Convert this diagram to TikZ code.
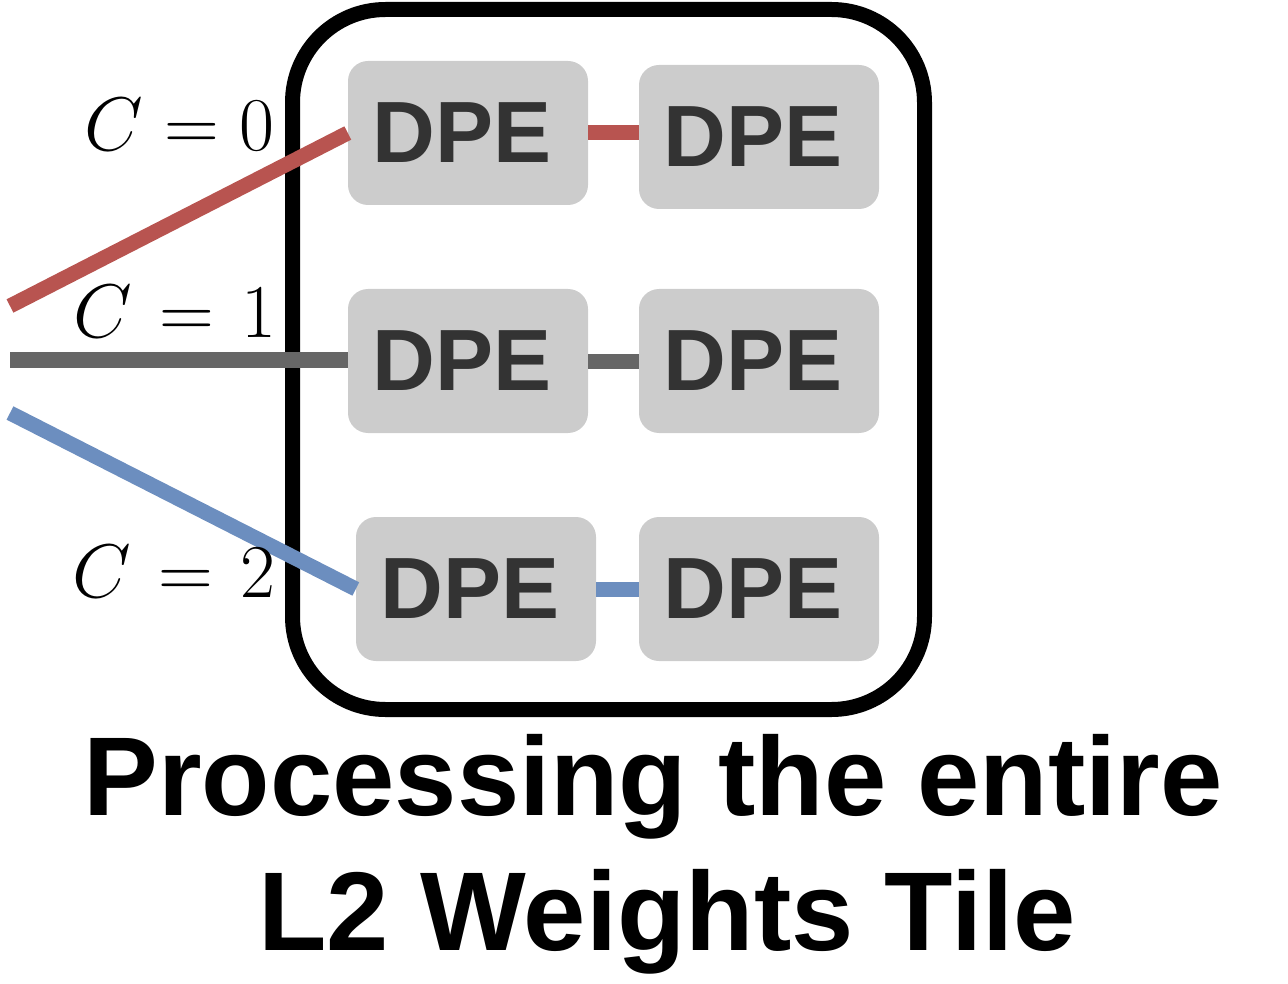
\documentclass[tikz,border=0pt]{standalone}
\usepackage{graphicx}
\usepackage{fontspec}
\newfontfamily\lsans{Liberation Sans}
\definecolor{dpefill}{HTML}{CCCCCC}
\definecolor{dpetext}{HTML}{333333}
\definecolor{redc}{HTML}{B85450}
\definecolor{bluec}{HTML}{6C8EBF}
\definecolor{grayc}{HTML}{666666}
\newcommand{\biglabel}[1]{\scalebox{3.055}{\Huge $#1$}}
\tikzset{
  dpebox/.style={fill=dpefill, rounded corners=20pt, minimum width=240pt, minimum height=144pt, inner sep=0pt,
    text=dpetext, font=\lsans\bfseries\fontsize{87}{100}\selectfont, execute at end node={\kern12pt}},
  tilebox/.style={draw=black, line width=15pt, rounded corners=93pt, minimum width=632pt, minimum height=700pt, inner sep=0pt},
  wire/.style={line width=15pt},
  clabel/.style={anchor=east, inner sep=0pt},
  titletext/.style={anchor=base, inner sep=0pt, font=\lsans\bfseries\fontsize{112}{135}\selectfont}
}
\begin{document}
\begin{tikzpicture}[x=1pt,y=-1pt]
\useasboundingbox (0,0) rectangle (1288,984);
\node[tilebox] (tile) at (608.5,359.5) {};
\node[dpebox] (a1) at (468,133) {DPE};
\node[dpebox] (b1) at (759,137) {DPE};
\node[dpebox] (a2) at (468,361) {DPE};
\node[dpebox] (b2) at (759,361) {DPE};
\node[dpebox] (a3) at (476,589) {DPE};
\node[dpebox] (b3) at (759,589) {DPE};
\coordinate (s0) at (10,306);
\coordinate (s1) at (10,360);
\coordinate (s2) at (10,413);
\draw[wire, redc] (s0) -- (a1.west);
\draw[wire, grayc] (s1) -- (s1 -| a2.west);
\draw[wire, bluec] (s2) -- (a3.west);
\draw[wire, redc] (a1.east) -- (a1.east -| b1.west);
\draw[wire, grayc] (a2.east) -- (b2.west);
\draw[wire, bluec] (a3.east) -- (b3.west);
\node[clabel] (c0) at (275,125) {\biglabel{C=0}};
\node[clabel] (c1) at (277,312) {\biglabel{C\mkern1.5mu=\mkern1.5mu1}};
\node[clabel] (c2) at (276,572) {\biglabel{C\mkern1.5mu=\mkern1.5mu2}};
\node[titletext] (t1) at (653,815) {Processing the entire};
\node[titletext] (t2) at (667,950) {L2 Weights Tile};
\end{tikzpicture}
\end{document}
